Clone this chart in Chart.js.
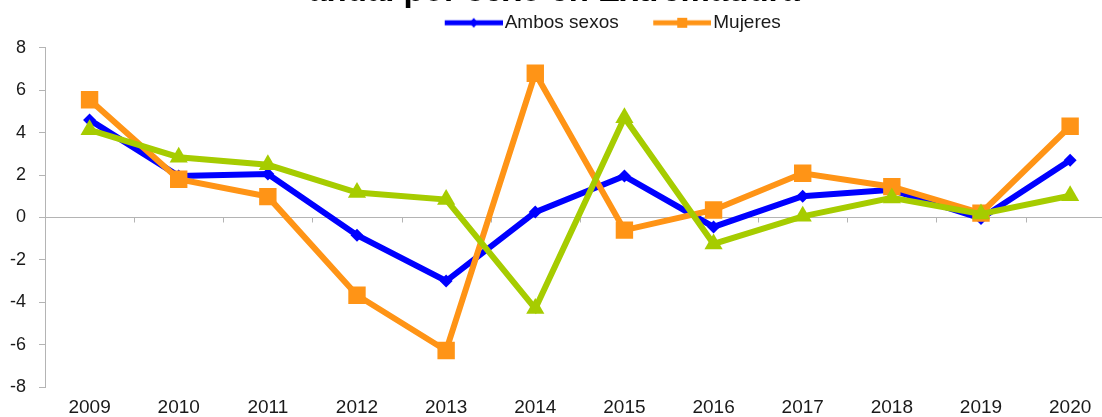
<!DOCTYPE html>
<html><head><meta charset="utf-8">
<script src="https://cdn.jsdelivr.net/npm/chart.js@4.4.0/dist/chart.umd.min.js"></script>
<style>
html,body{margin:0;padding:0;overflow:hidden;background:#fff;width:1102px;height:417px;}
#wrap{position:absolute;left:0;top:-70px;width:1127px;height:489px;}
</style></head><body>
<div id="wrap"><canvas id="c" width="1127" height="489"></canvas></div>
<script>
const years = ['2009','2010','2011','2012','2013','2014','2015','2016','2017','2018','2019','2020'];
const ambosSexos = [4.6, 1.95, 2.05, -0.84, -3.0, 0.25, 1.95, -0.45, 1.0, 1.3, -0.05, 2.7];
const mujeres = [5.55, 1.8, 0.98, -3.67, -6.28, 6.8, -0.6, 0.35, 2.08, 1.45, 0.2, 4.3];
const hombres = [4.13, 2.84, 2.48, 1.17, 0.84, -4.3, 4.7, -1.25, 0.05, 0.92, 0.16, 1.02];
const yTickValues = [-8, -6, -4, -2, 0, 2, 4, 6, 8];
const titleLines = ['Tasa de variación del empleo', 'anual por sexo en Extremadura'];

const BLUE = '#0000FF', ORANGE = '#FF9416', GREEN = '#A6CC00', AXIS = '#B4B4B4', TXT = '#1a1a1a';

function legendImg(color, style) {
  const c = document.createElement('canvas');
  c.width = 100; c.height = 20;
  const g = c.getContext('2d');
  g.strokeStyle = color; g.lineWidth = 5;
  g.beginPath(); g.moveTo(42, 10); g.lineTo(100, 10); g.stroke();
  g.fillStyle = color;
  if (style === 'diamond') {
    g.beginPath(); g.moveTo(71, 5); g.lineTo(75, 10); g.lineTo(71, 15); g.lineTo(67, 10); g.closePath(); g.fill();
  } else {
    g.fillRect(66, 5, 10, 10);
  }
  return c;
}
const legendImgs = [legendImg(BLUE, 'diamond'), legendImg(ORANGE, 'square')];

const boxShift = {
  id: 'boxShift',
  afterLayout(chart) {
    const lg = chart.legend;
    if (lg) { lg.left += 30.5; lg.right += 30.5; lg.top -= 5.5; lg.bottom -= 5.5; }
    const tb = chart.titleBlock;
    if (tb) { tb.left -= 11; tb.right -= 11; }
  }
};

// horizontal axis line at value 0 with tick marks between categories
const zeroAxis = {
  id: 'zeroAxis',
  beforeDatasetsDraw(chart) {
    const {ctx, chartArea, scales: {x, y}} = chart;
    const y0 = Math.round(y.getPixelForValue(0)) + 0.5;
    ctx.save();
    ctx.strokeStyle = AXIS; ctx.lineWidth = 1;
    ctx.beginPath();
    ctx.moveTo(chartArea.left, y0); ctx.lineTo(chartArea.right, y0);
    const n = years.length;
    const step = (x.getPixelForValue(n - 1) - x.getPixelForValue(0)) / (n - 1);
    for (let i = 0; i <= n; i++) {
      const px = Math.round(x.getPixelForValue(0) - step / 2 + i * step) + 0.5;
      ctx.moveTo(px, y0); ctx.lineTo(px, y0 + 5);
    }
    ctx.stroke();
    ctx.restore();
  }
};

new Chart(document.getElementById('c'), {
  type: 'line',
  data: {
    labels: years,
    datasets: [
      { label: 'Ambos sexos', data: ambosSexos, borderColor: BLUE, backgroundColor: BLUE,
        borderWidth: 6, pointStyle: 'rectRot', pointRadius: 6.5, pointBorderWidth: 0,
        pointBackgroundColor: BLUE, tension: 0, order: 3 },
      { label: 'Mujeres', data: mujeres, borderColor: ORANGE, backgroundColor: ORANGE,
        borderWidth: 6, pointStyle: 'rect', pointRadius: 12.3, pointBorderWidth: 0,
        pointBackgroundColor: ORANGE, tension: 0, order: 2 },
      { label: 'Hombres', data: hombres, borderColor: GREEN, backgroundColor: GREEN,
        borderWidth: 6, pointStyle: 'triangle', pointRadius: 10.5, pointBorderWidth: 0,
        pointBackgroundColor: GREEN, tension: 0, order: 1 }
    ]
  },
  options: {
    responsive: false,
    animation: false,
    events: [],
    layout: { padding: { left: 9, right: 6, top: 0, bottom: 0 } },
    plugins: {
      tooltip: { enabled: false },
      title: {
        display: true, text: titleLines, color: '#000',
        font: { family: 'Liberation Sans', size: 33, weight: 'bold', lineHeight: 1.2 },
        padding: { top: 3, bottom: 6.6 }
      },
      legend: {
        display: true, position: 'top', align: 'center',
        labels: {
          usePointStyle: true, pointStyleWidth: 85, padding: 0,
          color: TXT, font: { family: 'Liberation Sans', size: 19 },
          generateLabels(chart) {
            return chart.data.datasets.slice(0, 2).map((ds, i) => ({
              text: ds.label, pointStyle: legendImgs[i], fillStyle: ds.borderColor,
              strokeStyle: ds.borderColor, lineWidth: 0, hidden: false, datasetIndex: i, fontColor: TXT
            }));
          }
        }
      }
    },
    scales: {
      x: {
        type: 'category', offset: true,
        grid: { display: false, drawTicks: false },
        border: { display: false },
        ticks: { color: TXT, font: { family: 'Liberation Sans', size: 19 }, padding: 9, maxRotation: 0, autoSkip: false },
        afterFit(scale) { scale.height = 32; scale.paddingLeft = 0; scale.paddingRight = 0; }
      },
      y: {
        min: -8, max: 8,
        afterBuildTicks(scale) { scale.ticks = yTickValues.map(v => ({ value: v })); },
        grid: { display: true, drawOnChartArea: false, drawTicks: true, tickLength: 6, color: AXIS },
        border: { display: true, color: AXIS, width: 1 },
        ticks: { color: TXT, font: { family: 'Liberation Sans', size: 18 }, padding: 13 },
        afterFit(scale) { scale.width = 36; }
      }
    }
  },
  plugins: [boxShift, zeroAxis]
});
</script>
</body></html>
